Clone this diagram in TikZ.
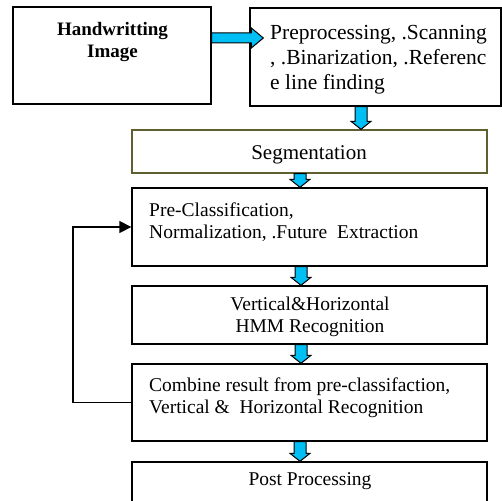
\documentclass[tikz,border=0pt]{standalone}
\usepackage{fontspec}
\setmainfont{Liberation Serif}
\usetikzlibrary{arrows.meta,calc}

\definecolor{arrowblue}{RGB}{0,191,245}
\definecolor{segborder}{RGB}{95,95,48}

\tikzset{
  box/.style={draw, line width=1.35pt, inner sep=0pt},
  fatarrow/.style={draw=black, fill=arrowblue, line width=1pt, line join=miter},
  txt/.style={inner sep=0pt, font=\fontsize{19.5}{22.5}\selectfont}
}

% block arrow from #1 down to #2, at x=#3
\newcommand{\fatdown}[3]{%
  \filldraw[fatarrow] let \p1=(#1), \p2=(#2) in
    (#3pt-6pt,\y1) -- (#3pt+6pt,\y1) -- (#3pt+6pt,\y2+8pt) -- (#3pt+10pt,\y2+8pt)
    -- (#3pt,\y2) -- (#3pt-10pt,\y2+8pt) -- (#3pt-6pt,\y2+8pt) -- cycle;}
% block arrow from #1 right into #2, at y=#3
\newcommand{\fatright}[3]{%
  \filldraw[fatarrow] let \p1=(#1), \p2=(#2) in
    (\x1,-#3pt+5pt) -- (\x2+2pt,-#3pt+5pt) -- (\x2+2pt,-#3pt+10pt) -- (\x2+14pt,-#3pt)
    -- (\x2+2pt,-#3pt-10pt) -- (\x2+2pt,-#3pt-5pt) -- (\x1,-#3pt-5pt) -- cycle;}

\begin{document}
\begin{tikzpicture}[x=1pt,y=-1pt]
  \useasboundingbox (0,0) rectangle (502,500);
  % boxes
  \node[box, minimum width=198pt, minimum height=97pt] (img) at (112,55.5) {};
  \node[box, minimum width=251pt, minimum height=98pt] (pre) at (375.5,57) {};
  \node[box, draw=segborder, minimum width=355pt, minimum height=43pt] (seg) at (309.5,151.5) {};
  \node[box, minimum width=355pt, minimum height=78pt] (feat) at (309.5,227) {};
  \node[box, minimum width=355pt, minimum height=58pt] (hmm) at (309.5,315) {};
  \node[box, minimum width=355pt, minimum height=77pt] (comb) at (309.5,402.5) {};
  \node[box, minimum width=355pt, minimum height=50pt] (post) at (309.5,487) {};
  % texts
  \node[txt, font=\bfseries\fontsize{19}{22}\selectfont, align=center, anchor=north] (imgtxt) at (112.5,22) {Handwritting\\Image};
  \node[txt, font=\fontsize{21.5}{25}\selectfont, align=left, anchor=north west] (pretxt) at (270,25) {Preprocessing, .Scanning\\, .Binarization, .Referenc\\e line finding};
  \node[txt, font=\fontsize{21}{24}\selectfont, anchor=base] (segtxt) at (309,159) {Segmentation};
  \node[txt, align=left, anchor=north west] (feattxt) at (149,202.5) {Pre-Classification,\\Normalization, .Future\ \ Extraction};
  \node[txt, align=center] (hmmtxt) at (310,317) {Vertical\&Horizontal\\HMM Recognition};
  \node[txt, align=left, anchor=north west] (combtxt) at (149,377.5) {Combine result from pre-classifaction,\\Vertical \&\ \ Horizontal Recognition};
  \node[txt, anchor=base] (posttxt) at (310,485) {Post Processing};
  % block arrows
  \fatright{img.east}{pre.west}{38}
  \fatdown{pre.south}{seg.north}{361}
  \fatdown{seg.south}{feat.north}{300}
  \fatdown{feat.south}{hmm.north}{301}
  \fatdown{hmm.south}{comb.north}{301}
  \fatdown{comb.south}{post.north}{300}
  % feedback loop
  \coordinate (loop) at (73,0);
  \draw[line width=1.35pt, -{Triangle[length=12pt,width=12pt]}]
    (comb.west) -- (comb.west -| loop) -- (feat.west -| loop) -- (feat.west);
\end{tikzpicture}
\end{document}
